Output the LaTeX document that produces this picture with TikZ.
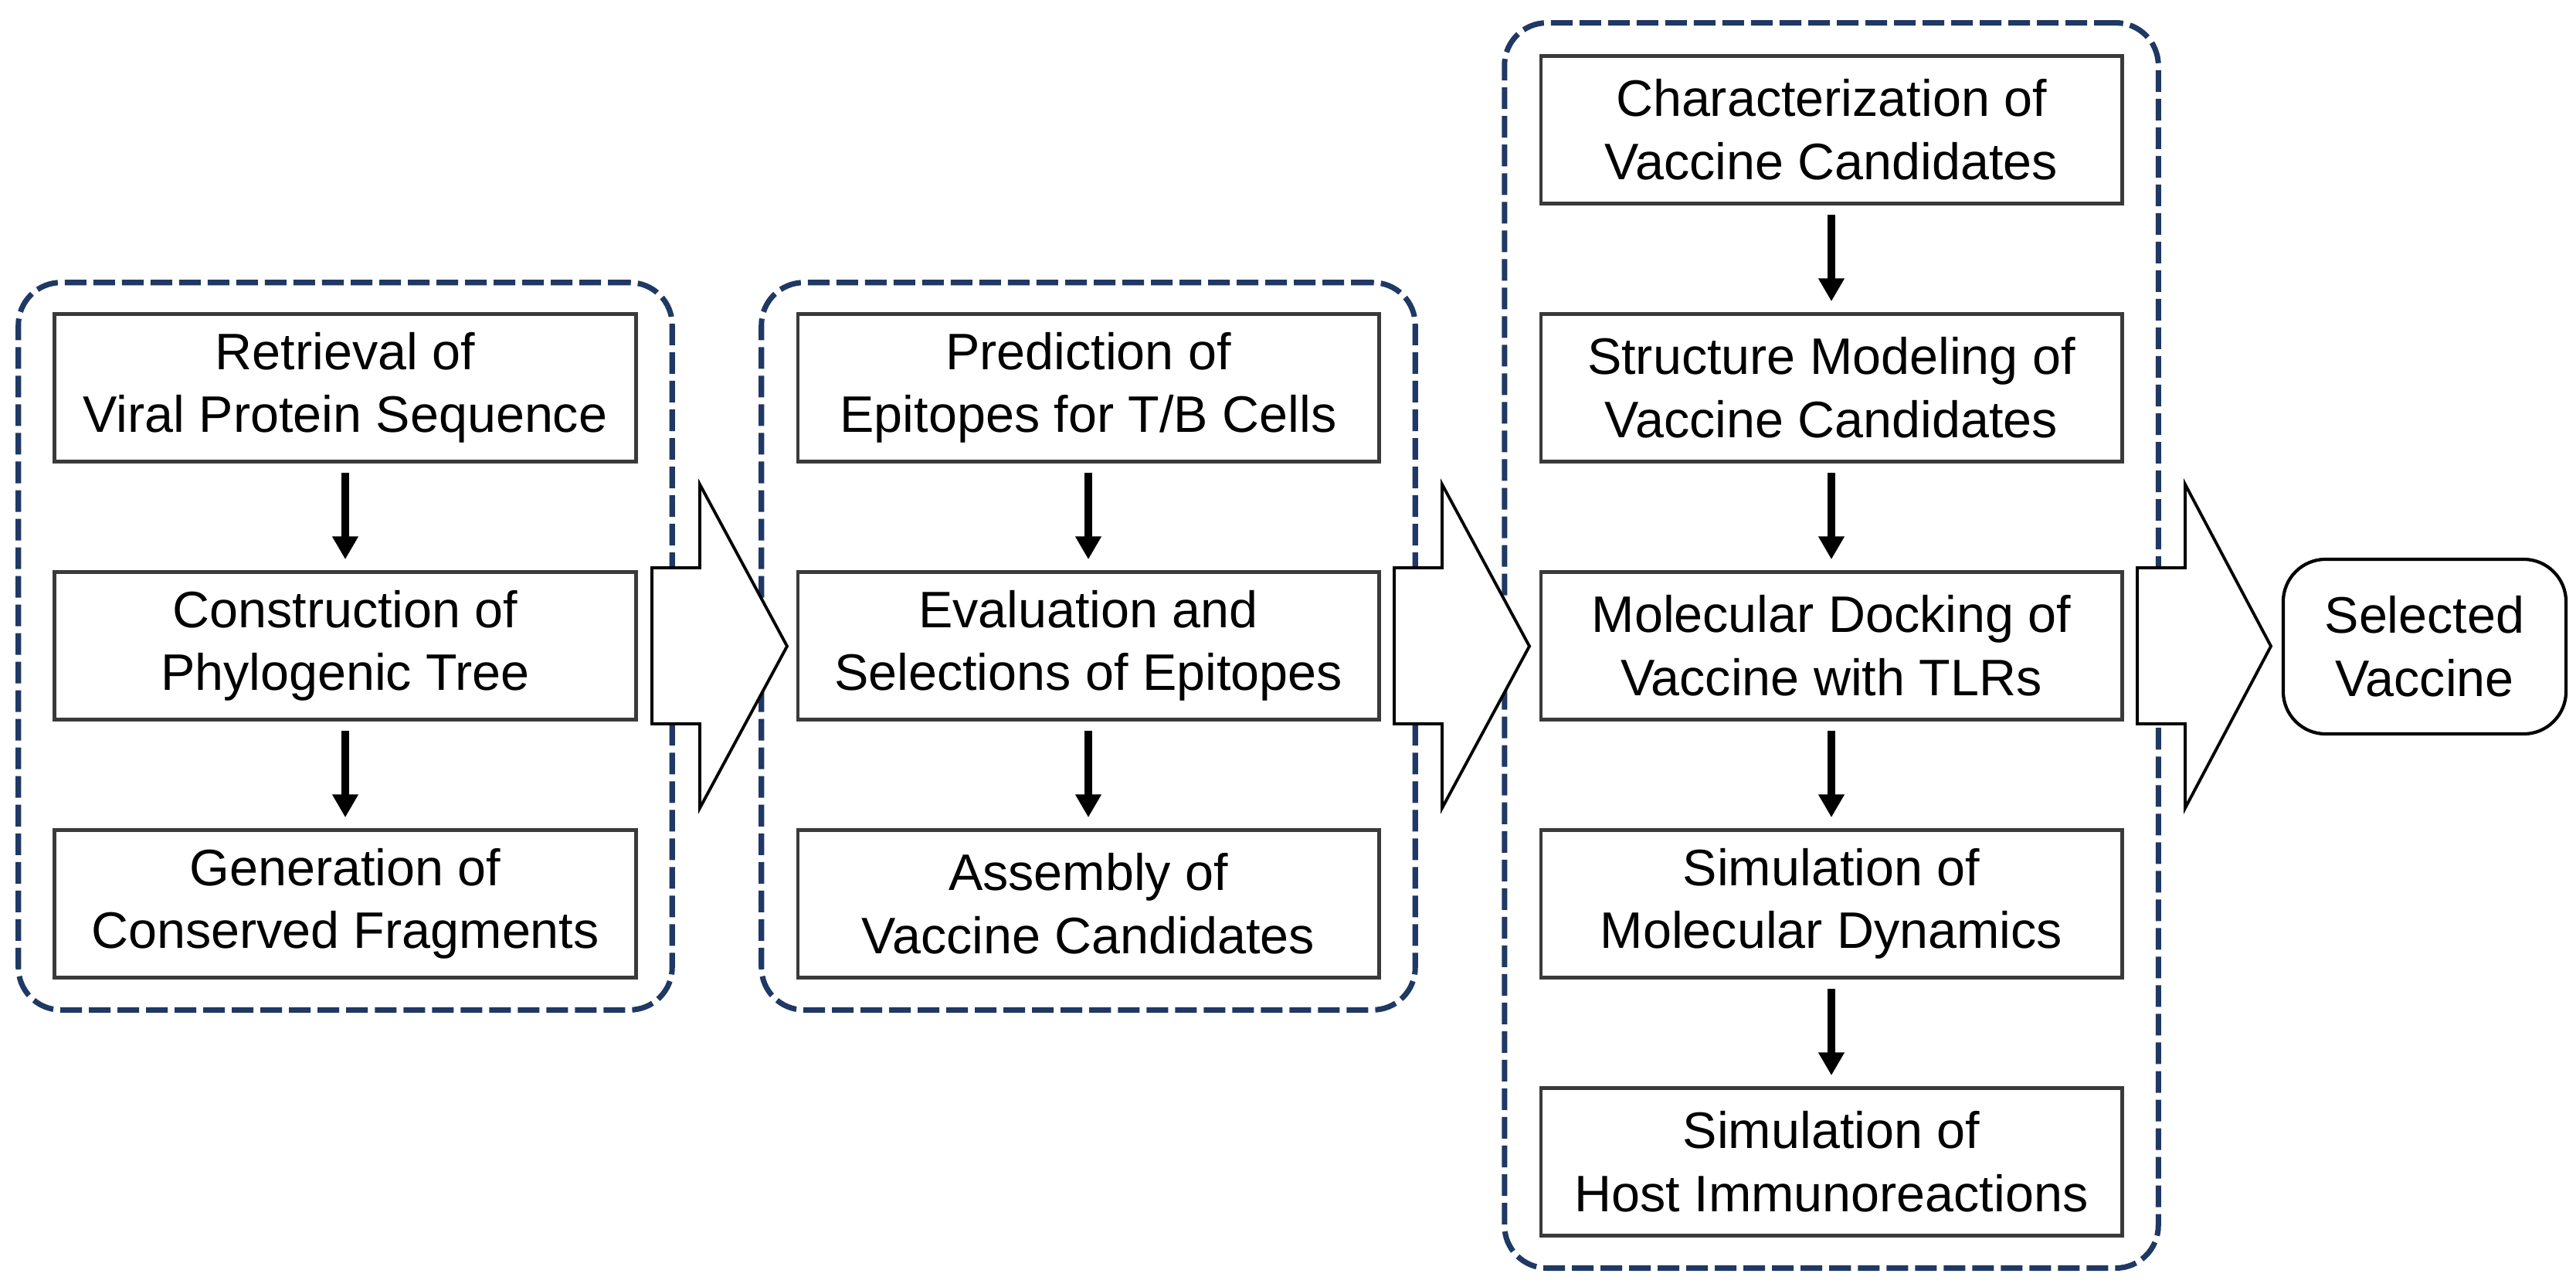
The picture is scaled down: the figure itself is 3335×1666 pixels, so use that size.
\documentclass[tikz,border=0pt]{standalone}
\usepackage{fontspec}
\setmainfont{Liberation Sans}
\usetikzlibrary{arrows.meta,shadows}
\definecolor{navy}{HTML}{1F3864}
\definecolor{boxline}{HTML}{3A3A3A}
\begin{document}
\begin{tikzpicture}[x=0.01cm,y=-0.01cm,
  txt/.style={font=\fontsize{18.9}{23.2}\selectfont, align=center, text=black},
  stepbox/.style={txt, draw=boxline, line width=1.3pt, fill=white, minimum width=7.52cm, minimum height=1.91cm, inner sep=0pt,
    drop shadow={shadow xshift=0.01cm, shadow yshift=-0.025cm, fill=gray!55, opacity=1}},
  group/.style={draw=navy, line width=2pt, dash pattern=on 0.28cm off 0.09cm, rounded corners=0.55cm, minimum width=8.46cm, inner sep=0pt},
  flow/.style={line width=2.85pt, draw=black, -{Triangle[width=9.1pt,length=8.5pt]}},
  bigarrow/.style={draw=black, line width=1.1pt, fill=white, line join=miter},
  endbox/.style={txt, draw=black, line width=1.2pt, fill=white, rounded corners=0.55cm, minimum width=3.66cm, minimum height=2.26cm, inner sep=0pt}
]
\fill[white] (0,0) rectangle (3335,1666);
\useasboundingbox (0,0) rectangle (3335,1666);

% groups
\node[group, minimum height=9.41cm] (g1) at (447,836.5) {};
\node[group, minimum height=9.41cm] (g2) at (1409,836.5) {};
\node[group, minimum height=16.11cm] (g3) at (2371,835.5) {};

% group 1
\node[stepbox] (a1) at (447,502) {Retrieval of\\Viral Protein Sequence};
\node[stepbox] (a2) at (447,836) {Construction of\\Phylogenic Tree};
\node[stepbox] (a3) at (447,1170) {Generation of\\Conserved Fragments};

% group 2
\node[stepbox] (b1) at (1409,502) {Prediction of\\Epitopes for T/B Cells};
\node[stepbox] (b2) at (1409,836) {Evaluation and\\Selections of Epitopes};
\node[stepbox] (b3) at (1409,1170) {Assembly of\\Vaccine Candidates};

% group 3
\node[stepbox] (c1) at (2371,168) {Characterization of\\Vaccine Candidates};
\node[stepbox] (c2) at (2371,502) {Structure Modeling of\\Vaccine Candidates};
\node[stepbox] (c3) at (2371,836) {Molecular Docking of\\Vaccine with TLRs};
\node[stepbox] (c4) at (2371,1170) {Simulation of\\Molecular Dynamics};
\node[stepbox] (c5) at (2371,1504) {Simulation of\\Host Immunoreactions};

% final
\node[endbox] (sel) at (3139,837) {Selected\\Vaccine};

% small arrows
\foreach \s/\t in {a1/a2,a2/a3,b1/b2,b2/b3,c1/c2,c2/c3,c3/c4,c4/c5}
  \draw[flow] ([yshift=-0.12cm]\s.south) -- ([yshift=0.14cm]\t.north);

% big block arrows
\foreach \xa/\xb/\xc in {844/906/1019, 1805/1867/1980, 2767/2829/2940}
  \draw[bigarrow] (\xa,735) -- (\xb,735) -- (\xb,627) -- (\xc,836.5) -- (\xb,1046) -- (\xb,937) -- (\xa,937) -- cycle;
\end{tikzpicture}
\end{document}
